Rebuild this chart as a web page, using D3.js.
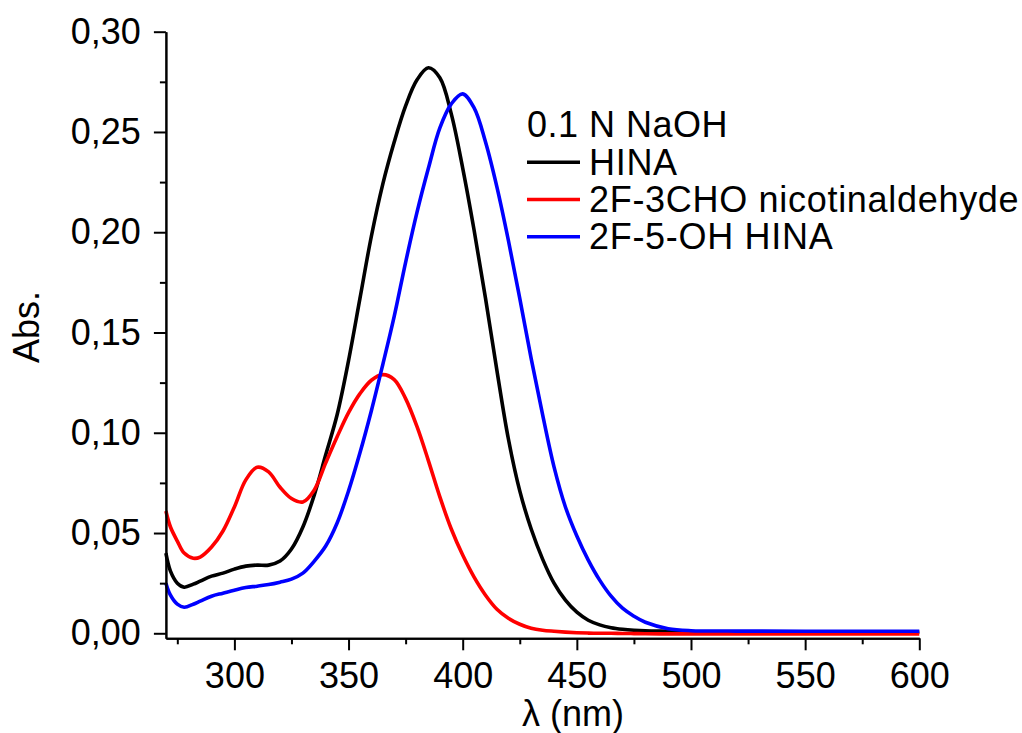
<!DOCTYPE html>
<html>
<head>
<meta charset="utf-8">
<script src="https://cdn.jsdelivr.net/npm/d3@7"></script>
<style>
  html, body { margin: 0; padding: 0; background: #fff; }
  svg { display: block; }
  text { font-family: "Liberation Sans", Arial, sans-serif; fill: #000; }
</style>
</head>
<body>
<svg id="chart" width="1022" height="733"></svg>
<script>
// Wavelength grid (nm) shared by all spectra
const wavelength = [270, 272, 275, 278, 282, 285, 290, 295, 300, 305, 310, 315, 320, 325, 330, 335,
  340, 345, 350, 355, 360, 365, 370, 375, 380, 385, 390, 395, 400, 405, 410, 415, 420, 425, 430,
  435, 440, 445, 450, 455, 460, 465, 470, 475, 480, 490, 500, 520, 550, 600];

// Absorbance of each compound in 0.1 N NaOH
const hina = [0.040, 0.031, 0.025, 0.023, 0.0245, 0.026, 0.0285, 0.030, 0.032, 0.0335, 0.034, 0.034,
  0.036, 0.042, 0.053, 0.069, 0.089, 0.109, 0.136, 0.167, 0.198, 0.224, 0.245, 0.263, 0.276, 0.282,
  0.277, 0.259, 0.232, 0.201, 0.167, 0.131, 0.097, 0.071, 0.052, 0.037, 0.025, 0.0165, 0.0105, 0.0065,
  0.0042, 0.0028, 0.002, 0.0015, 0.0012, 0.001, 0.0008, 0.0006, 0.0005, 0.0005];

const aldehyde = [0.061, 0.053, 0.046, 0.040, 0.0374, 0.038, 0.043, 0.051, 0.063, 0.0765, 0.0828, 0.0805,
  0.0728, 0.0672, 0.0655, 0.0715, 0.085, 0.098, 0.110, 0.1195, 0.1262, 0.129, 0.1265, 0.117, 0.103, 0.086,
  0.068, 0.052, 0.039, 0.028, 0.019, 0.012, 0.0075, 0.0045, 0.0025, 0.0015, 0.001, 0.0006, 0.0003,
  0.0001, 0.0, 0.0, -0.0001, -0.00015, -0.0002, -0.0003, -0.0003, -0.0003, -0.0003, -0.0003];

const hydroxyHina = [0.025, 0.019, 0.0145, 0.013, 0.0145, 0.016, 0.0185, 0.020, 0.0215, 0.0228, 0.0235,
  0.0243, 0.0255, 0.027, 0.030, 0.036, 0.0435, 0.055, 0.071, 0.090, 0.111, 0.134, 0.158, 0.185, 0.210,
  0.232, 0.252, 0.264, 0.269, 0.262, 0.245, 0.2225, 0.196, 0.167, 0.137, 0.109, 0.083, 0.063, 0.0485,
  0.0365, 0.0265, 0.0185, 0.0125, 0.0085, 0.0055, 0.0023, 0.0013, 0.0011, 0.001, 0.001];

const seriesNames = ["HINA", "2F-3CHO nicotinaldehyde", "2F-5-OH HINA"];
const seriesColors = ["#000000", "#ff0000", "#0000ff"];
const legendTitle = "0.1 N NaOH";

const xMajorTicks = [300, 350, 400, 450, 500, 550, 600];
const xMinorTicks = [275, 325, 375, 425, 475, 525, 575];
const yMajorTicks = [0, 0.05, 0.10, 0.15, 0.20, 0.25, 0.30];
const yMinorTicks = [0.025, 0.075, 0.125, 0.175, 0.225, 0.275];

const svg = d3.select("#chart");
const FONT = 36;

const x = d3.scaleLinear().domain([270, 600]).range([165.9, 919.3]);
const y = d3.scaleLinear().domain([-0.0025, 0.30]).range([638.3, 31.7]);

const fmt = v => d3.format(".2f")(v).replace(".", ",");

// Spectra
const line = d3.line()
  .x(d => x(d[0]))
  .y(d => y(d[1]))
  .curve(d3.curveCatmullRom.alpha(0.5));

[hina, aldehyde, hydroxyHina].forEach((vals, i) => {
  svg.append("path")
    .datum(wavelength.map((w, k) => [w, vals[k]]))
    .attr("fill", "none")
    .attr("stroke", seriesColors[i])
    .attr("stroke-width", 3.6)
    .attr("stroke-linejoin", "round")
    .attr("d", line);
});

// Axes
function styleAxis(g) {
  g.selectAll("path.domain").attr("stroke", "#000").attr("stroke-width", 2);
  g.selectAll(".tick line").attr("stroke", "#000").attr("stroke-width", 2);
  g.selectAll(".tick text").style("font-size", FONT + "px").attr("fill", "#000")
    .style("font-family", '"Liberation Sans", Arial, sans-serif');
}

const xAxisY = y(-0.0025);
const gx = svg.append("g").attr("transform", `translate(0,${xAxisY})`)
  .call(d3.axisBottom(x).tickValues(xMajorTicks).tickFormat(d3.format("d"))
    .tickSize(12).tickSizeOuter(0).tickPadding(12));
styleAxis(gx);
const gxm = svg.append("g").attr("transform", `translate(0,${xAxisY})`)
  .call(d3.axisBottom(x).tickValues(xMinorTicks).tickFormat("").tickSize(6).tickSizeOuter(0));
styleAxis(gxm);

const yAxisX = x(270);
const gy = svg.append("g").attr("transform", `translate(${yAxisX},0)`)
  .call(d3.axisLeft(y).tickValues(yMajorTicks).tickFormat(fmt)
    .tickSize(12).tickSizeOuter(0).tickPadding(13));
styleAxis(gy);
const gym = svg.append("g").attr("transform", `translate(${yAxisX},0)`)
  .call(d3.axisLeft(y).tickValues(yMinorTicks).tickFormat("").tickSize(6).tickSizeOuter(0));
styleAxis(gym);

// Axis titles
svg.append("text")
  .attr("x", 573).attr("y", 726)
  .attr("text-anchor", "middle")
  .style("font-size", FONT + "px")
  .text("λ (nm)");

svg.append("text")
  .attr("transform", "translate(39,327) rotate(-90)")
  .attr("text-anchor", "middle")
  .style("font-size", FONT + "px")
  .text("Abs.");

// Legend
const legend = svg.append("g");
legend.append("text")
  .attr("x", 527).attr("y", 137)
  .style("font-size", FONT + "px")
  .style("letter-spacing", "0.5px")
  .text(legendTitle);

seriesNames.forEach((name, i) => {
  const cy = 162.3 + i * 37.2;
  legend.append("line")
    .attr("x1", 527).attr("x2", 580)
    .attr("y1", cy).attr("y2", cy)
    .attr("stroke", seriesColors[i])
    .attr("stroke-width", 3.6);
  legend.append("text")
    .attr("x", 589).attr("y", cy + 12.2)
    .style("font-size", FONT + "px")
    .style("letter-spacing", "0.7px")
    .text(name);
});
</script>
</body>
</html>
